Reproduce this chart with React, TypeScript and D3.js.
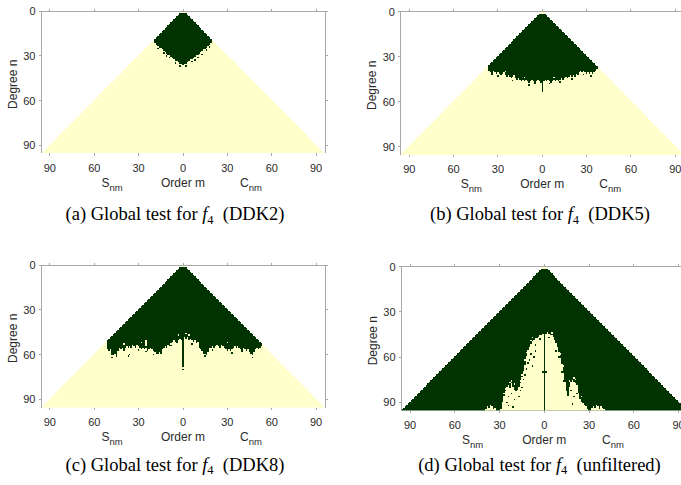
import React from 'react';
import * as d3 from 'd3';

const DARK = '#003300';
const LIGHT = '#FFFFCC';
const MAX_N = 95;
const X_TICKS = [-90, -60, -30, 0, 30, 60, 90];
const Y_TICKS = [0, 30, 60, 90];

// (a) DDK2: last significant degree for orders -19..19
const DDK2_FIRST_M = -19;
const DDK2_BOTTOM = [21, 22, 23, 24, 24, 25, 26, 27, 28, 29, 29, 30, 31, 32, 33, 33, 34, 35, 35, 36,
  35, 35, 34, 33, 32, 32, 31, 30, 29, 29, 28, 27, 26, 25, 25, 24, 23, 22, 21];
const DDK2_DARK_DOTS: [number, number][] = [[-17, 25], [-13, 28], [-9, 31], [-5, 35], [-2, 37], [2, 37], [6, 34], [10, 31], [13, 29], [16, 26], [18, 24], [-11, 30], [8, 33]];
const DDK2_LIGHT_DOTS: [number, number][] = [];

// (b) DDK5: orders -36..37
const DDK5_FIRST_M = -36;
const DDK5_BOTTOM = [39, 40, 41, 39, 40, 41, 40, 41, 42, 41,
  40, 42, 43, 42, 43, 44, 43, 42, 44, 45,
  44, 45, 46, 45, 46, 45, 46, 47, 46, 45,
  46, 47, 46, 45, 46, 47,
  52,
  46, 45, 46, 45, 46, 47, 46, 45, 46, 45,
  46, 45, 44, 45, 44, 43, 44, 43, 42, 43,
  42, 43, 41, 42, 40, 39, 40, 39, 40, 41,
  40, 41, 40, 41, 40, 39, 38];
const DDK5_DARK_DOTS: [number, number][] = [[-9, 49], [-30, 43], [-20, 46], [-5, 48], [5, 48], [12, 47], [20, 45], [28, 42], [-34, 42], [33, 43], [0, 53]];
const DDK5_LIGHT_DOTS: [number, number][] = [[-12, 44], [8, 44], [-25, 40]];

// (c) DDK8: orders -51..53
const DDK8_FIRST_M = -51;
const DDK8_BOTTOM = [56, 57, 56, 60, 60, 59, 60, 57, 55, 56,
  55, 57, 55, 54, 55, 54, 55, 53, 54, 55,
  53, 54, 55, 56, 55, 56, 55, 57, 56, 55,
  56, 57, 58, 59, 59, 58, 59, 56, 55, 54,
  55, 53, 54, 52, 51, 50, 51, 52, 50, 49,
  50,
  68,
  48, 49, 48, 50, 49, 50, 51, 50, 52, 51,
  55, 56, 57, 59, 59, 60, 58, 55, 55, 54,
  55, 54, 53, 54, 55, 53, 54, 55, 56, 57,
  56, 57, 56, 55, 54, 55, 54, 55, 56, 57,
  55, 56, 57, 56, 58, 59, 60, 58, 56, 55,
  56, 55, 54];
const DDK8_DARK_DOTS: [number, number][] = [[-48, 62], [-45, 61], [-37, 61], [-36, 60], [-25, 58], [-20, 60], [-8, 54], [0, 70], [6, 53], [20, 57], [33, 59], [40, 58], [47, 62], [-30, 57], [15, 61]];
const DDK8_LIGHT_DOTS: [number, number][] = [[-3, 47], [2, 46], [4, 47], [-40, 53], [-28, 52], [30, 52], [-25, 51], [-25, 52], [-25, 53], [-25, 54]];

// (d) unfiltered: first insignificant degree for orders -40..42 (0 = none)
const UNF_FIRST_M = -40;
const UNF_YELLOW_TOP = [0, 95, 93, 94, 92, 93, 95, 94, 0, 0,
  0, 95, 90, 86, 83, 80, 79, 81, 78, 80,
  82, 83, 82, 80, 78, 74, 70, 66, 60, 56,
  54, 52, 50, 49, 48, 48, 47, 46, 46, 45,
  0,
  45, 44, 45, 46, 46, 47, 49, 51, 54, 57,
  61, 65, 71, 77, 83, 86, 80, 77, 76, 77,
  78, 79, 84, 88, 90, 91, 92, 93, 95, 0,
  0, 94, 93, 94, 92, 93, 95, 93, 94, 95,
  0, 0];
const UNF_DARK_DOTS: [number, number][] = [[-6, 52], [-6, 56], [-7, 60], [-9, 58], [-11, 64], [-12, 68], [-13, 72], [-14, 75], [-16, 82], [-17, 86], [-20, 88], [-22, 84], [-24, 86], [-25, 90], [-1, 70], [1, 70], [8, 56], [10, 60], [12, 70], [13, 76], [18, 82], [20, 86], [22, 84], [-3, 48], [3, 47], [-24, 92], [-21, 93], [19, 91], [-10, 62], [-8, 66], [-15, 80]];
const UNF_LIGHT_DOTS: [number, number][] = [[-20, 78], [-22, 76], [-23, 77], [-8, 47], [-9, 49], [5, 44], [-16, 76], [-15, 72], [17, 76], [20, 74], [21, 75], [25, 86], [-27, 84], [-26, 81], [-12, 57], [11, 58], [13, 66], [-13, 62]];

const ORDERS = d3.range(-MAX_N, MAX_N + 1);

interface PanelProps {
  id: string;
  left: number; right: number; top: number; bottom: number;
  mode: 'darkTop' | 'yellowBottom';
  firstM: number;
  values: number[];
  darkDots: [number, number][];
  lightDots: [number, number][];
  letter: string; filter: string; capX: number; capY: number;
}

function Panel(p: PanelProps) {
  const x = d3.scaleLinear().domain([-96, 96]).range([p.left, p.right]);
  const y = d3.scaleLinear().domain([0, 96]).range([p.top, p.bottom]);
  const yb = y(MAX_N + 0.5);
  const cell = (m: number, n0: number, n1: number, fill: string, key: string) => (
    <rect key={key} x={x(m - 0.5)} width={x(m + 0.5) - x(m - 0.5)} y={y(n0 - 0.5)} height={y(n1 + 0.5) - y(n0 - 0.5)} fill={fill} />
  );
  const cells: React.ReactNode[] = [];
  ORDERS.forEach((m) => {
    const a = Math.abs(m);
    if (p.mode === 'darkTop') {
      cells.push(cell(m, a, MAX_N, LIGHT, `y${m}`));
    } else {
      if (a < 2) cells.push(cell(m, a, 1, LIGHT, `ya${m}`));
      cells.push(cell(m, Math.max(a, 2), MAX_N, DARK, `d${m}`));
    }
  });
  p.values.forEach((v, i) => {
    const m = p.firstM + i;
    const a = Math.max(Math.abs(m), 2);
    if (p.mode === 'darkTop') {
      if (v >= a) cells.push(cell(m, a, v, DARK, `b${m}`));
    } else if (v > 0) {
      cells.push(cell(m, Math.max(v, a), MAX_N, LIGHT, `b${m}`));
    }
  });
  p.darkDots.forEach(([m, n], i) => cells.push(cell(m, n, n, DARK, `dd${i}`)));
  p.lightDots.forEach(([m, n], i) => cells.push(cell(m, n, n, LIGHT, `ld${i}`)));

  const spine = '#a8a8a8';
  const tickFont = { fontFamily: 'Liberation Sans, Arial, sans-serif', fontSize: 11, fill: '#2a2a2a' };
  const titleFont = { fontFamily: 'Liberation Sans, Arial, sans-serif', fontSize: 12, fill: '#2a2a2a' };
  const x0 = x(-96), x1 = x(96), y0 = y(0);
  return (
    <g>
      <defs>
        <clipPath id={`clip-${p.id}`}>
          <rect x={x0} y={y0} width={x1 - x0} height={yb - y0} />
        </clipPath>
      </defs>
      <g clipPath={`url(#clip-${p.id})`} shapeRendering="crispEdges">{cells}</g>
      <g stroke={spine} strokeWidth={1} fill="none" shapeRendering="crispEdges">
        <line x1={x0} x2={x1} y1={y0} y2={y0} />
        <line x1={x0} x2={x0} y1={y0} y2={yb} />
        <line x1={x1} x2={x1} y1={y0} y2={yb} />
        {X_TICKS.map((t) => (
          <g key={`xt${t}`}>
            <line x1={x(t)} x2={x(t)} y1={y0} y2={y0 - 2.5} />
            <line x1={x(t)} x2={x(t)} y1={yb} y2={yb + 2.5} />
          </g>
        ))}
        {Y_TICKS.map((t) => (
          <g key={`yt${t}`}>
            <line x1={x0} x2={x0 - 2.5} y1={y(t)} y2={y(t)} />
            <line x1={x1} x2={x1 + 2.5} y1={y(t)} y2={y(t)} />
          </g>
        ))}
      </g>
      {X_TICKS.map((t) => (
        <text key={`xl${t}`} x={x(t)} y={yb + 18.5} textAnchor="middle" {...tickFont}>{Math.abs(t)}</text>
      ))}
      {Y_TICKS.map((t) => (
        <text key={`yl${t}`} x={x0 - 5.5} y={y(t) + 4} textAnchor="end" {...tickFont}>{t}</text>
      ))}
      <text transform={`translate(${x0 - 24.5},${(y0 + yb) / 2 + 2}) rotate(-90)`} textAnchor="middle" {...titleFont}>Degree n</text>
      <text x={x(0)} y={yb + 33.5} textAnchor="middle" {...titleFont}>Order m</text>
      <text x={x(-48)} y={yb + 33.5} textAnchor="middle" {...titleFont}>S<tspan fontSize={9.5} dy={4}>nm</tspan></text>
      <text x={x(46)} y={yb + 33.5} textAnchor="middle" {...titleFont}>C<tspan fontSize={9.5} dy={4}>nm</tspan></text>
      <text x={p.capX} y={p.capY} textAnchor="middle" fontFamily="Liberation Serif, Times New Roman, serif" fontSize={18.5} fill="#000" style={{ whiteSpace: 'pre' }}>
        {`(${p.letter}) Global test for `}
        <tspan fontStyle="italic">f</tspan>
        <tspan fontSize={12.5} dy={3.5}>4</tspan>
        <tspan dy={-3.5}>{`  (${p.filter})`}</tspan>
      </text>
    </g>
  );
}

export default function App() {
  return (
    <svg width={681} height={485} style={{ position: 'absolute', left: 0, top: 0, background: '#fff' }}>
      <rect width={681} height={485} fill="#fff" />
      <Panel id="a" left={41} right={325} top={11} bottom={11 + 96 * 1.492} mode="darkTop" firstM={DDK2_FIRST_M} values={DDK2_BOTTOM} darkDots={DDK2_DARK_DOTS} lightDots={DDK2_LIGHT_DOTS} letter="a" filter="DDK2" capX={175} capY={220} />
      <Panel id="b" left={542.3 - 96 * 1.478} right={542.3 + 96 * 1.478} top={11.7} bottom={11.7 + 96 * 1.5} mode="darkTop" firstM={DDK5_FIRST_M} values={DDK5_BOTTOM} darkDots={DDK5_DARK_DOTS} lightDots={DDK5_LIGHT_DOTS} letter="b" filter="DDK5" capX={540} capY={220} />
      <Panel id="c" left={41} right={325} top={265} bottom={265 + 96 * 1.493} mode="darkTop" firstM={DDK8_FIRST_M} values={DDK8_BOTTOM} darkDots={DDK8_DARK_DOTS} lightDots={DDK8_LIGHT_DOTS} letter="c" filter="DDK8" capX={175} capY={470.5} />
      <Panel id="d" left={544.3 - 96 * 1.492} right={544.3 + 96 * 1.492} top={266.7} bottom={266.7 + 96 * 1.507} mode="yellowBottom" firstM={UNF_FIRST_M} values={UNF_YELLOW_TOP} darkDots={UNF_DARK_DOTS} lightDots={UNF_LIGHT_DOTS} letter="d" filter="unfiltered" capX={539.5} capY={470.5} />
    </svg>
  );
}
